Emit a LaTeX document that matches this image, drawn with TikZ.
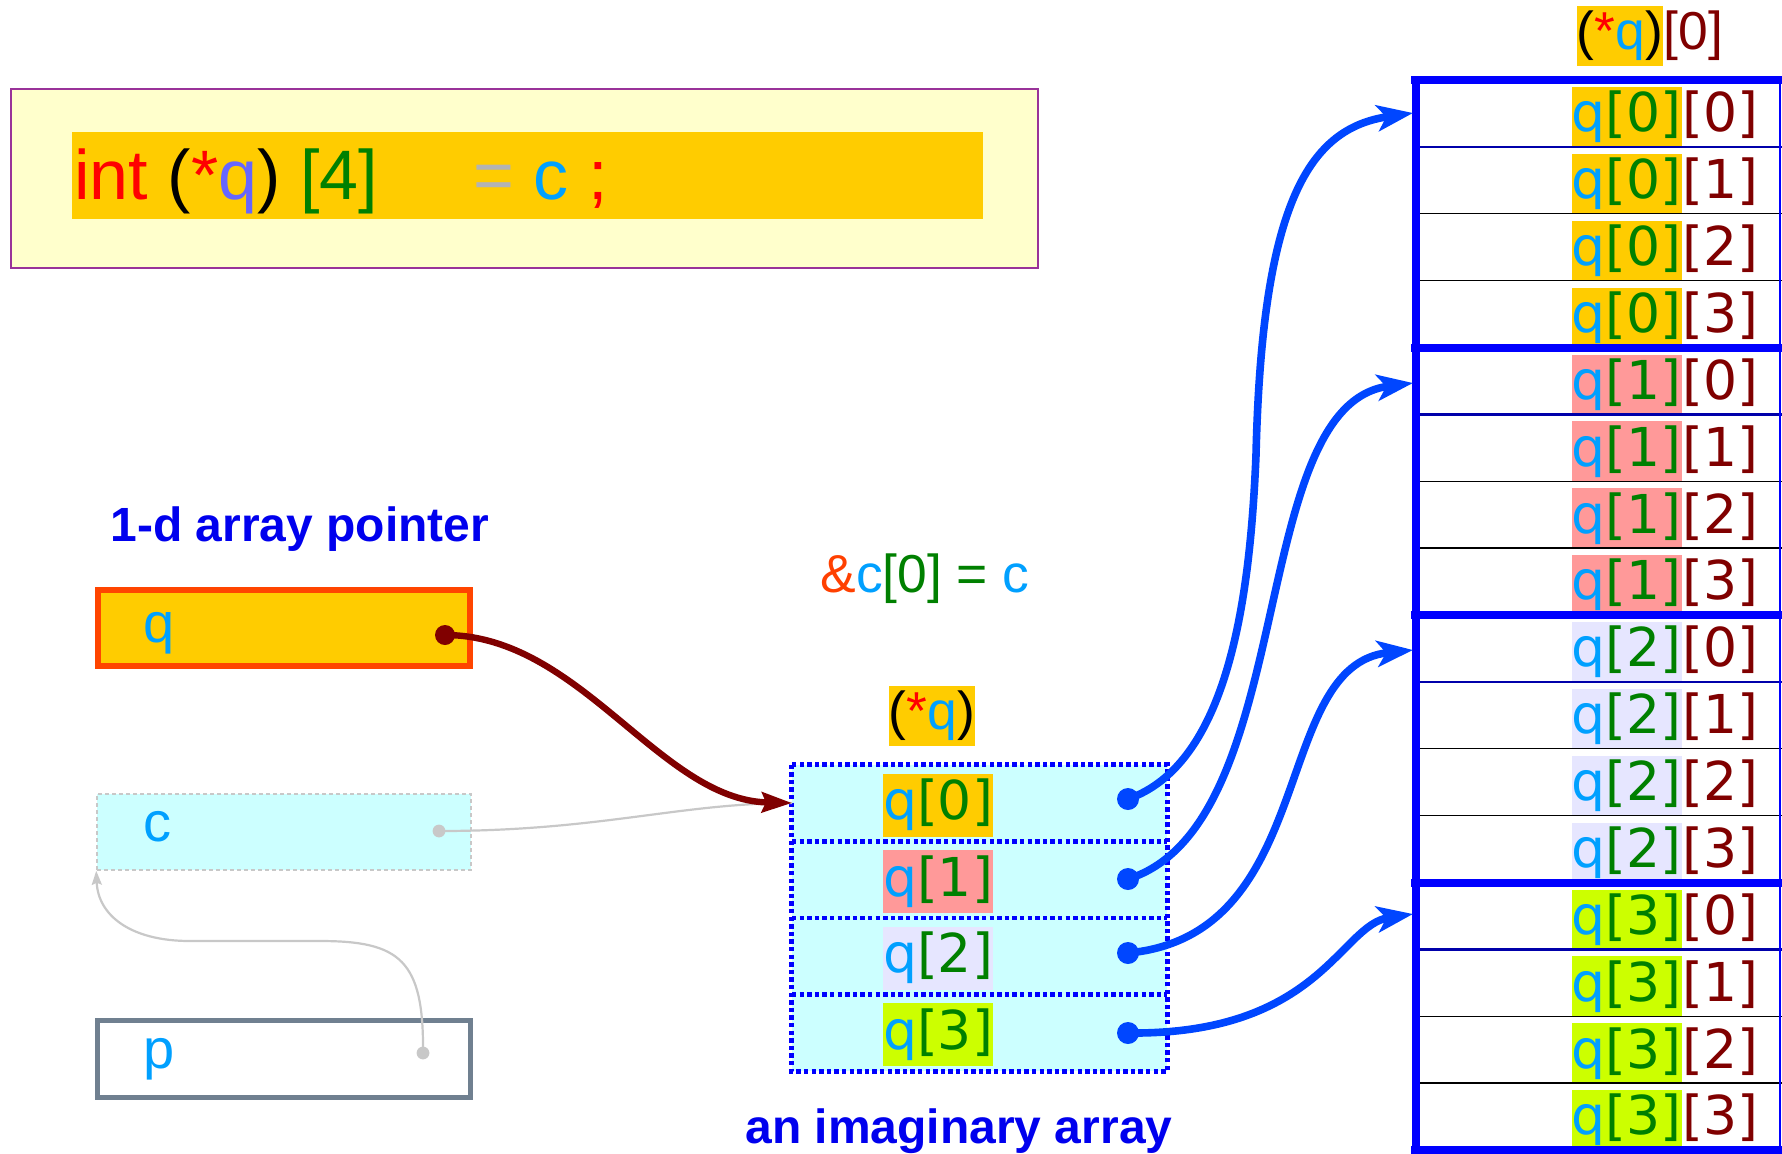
\documentclass[tikz,border=0pt]{standalone}
\usepackage{fontspec}
\setmainfont{Liberation Sans}
\newfontfamily\dvfont{DejaVu Sans}
\usetikzlibrary{arrows.meta}
\definecolor{skyq}{RGB}{0,160,255}
\definecolor{grn}{RGB}{0,128,0}
\definecolor{dred}{RGB}{128,0,0}
\definecolor{gold}{RGB}{255,204,0}
\definecolor{pinkbg}{RGB}{255,153,153}
\definecolor{lavbg}{RGB}{230,230,255}
\definecolor{limebg}{RGB}{204,255,0}
\definecolor{cyanbg}{RGB}{204,255,255}
\definecolor{lightyel}{RGB}{255,255,204}
\definecolor{purpleb}{RGB}{153,51,153}
\definecolor{perq}{RGB}{102,102,255}
\definecolor{eqgray}{RGB}{179,179,179}
\definecolor{orred}{RGB}{255,69,0}
\definecolor{slate}{RGB}{112,128,144}
\definecolor{ampc}{RGB}{255,64,0}
\definecolor{curveblue}{RGB}{0,70,255}
\definecolor{pureblue}{RGB}{0,0,255}
\definecolor{navyline}{RGB}{0,0,170}
\definecolor{lblblue}{RGB}{0,0,238}
\definecolor{ltgray}{RGB}{200,200,200}
\newcommand{\qidx}[1]{\textcolor{skyq}{q}\textcolor{grn}{[#1]}}
\newcommand{\starq}{\textcolor{black}{(}\textcolor{red}{*}\textcolor{skyq}{q}\textcolor{black}{)}}
\newcommand{\dvsize}{\dvfont\fontsize{26.8}{30}\selectfont}
\newcommand{\lssize}{\fontsize{26.7}{30}\selectfont}
\newcommand{\boxsize}{\fontsize{28}{32}\selectfont}
\newcommand{\codesize}{\fontsize{35}{40}\selectfont}
\newcommand{\boldsize}{\bfseries\fontsize{24}{28}\selectfont}
\tikzset{
  rowlbl/.style={inner sep=0pt, minimum height=30pt, font=\dvsize},
  midlbl/.style={inner sep=0pt, minimum height=31.5pt, font=\dvsize},
  idxlbl/.style={inner sep=0pt, font=\dvsize, text=dred, anchor=base west},
  starlbl/.style={inner sep=0pt, fill=gold, minimum width=43pt, minimum height=30pt, font=\lssize},
  boxlbl/.style={inner sep=0pt, font=\boxsize, text=skyq, anchor=base west},
  bluearrow/.style={draw=curveblue, line width=3.8pt, -{Stealth[length=18pt, width=13pt, inset=4.5pt]}},
  darkarrow/.style={draw=dred, line width=3.2pt, -{Stealth[length=15pt, width=10pt, inset=2pt]}},
  grayarrow/.style={draw=ltgray, line width=1.1pt, -{Stealth[length=7pt, width=5pt, inset=1pt]}},
  grayline/.style={draw=ltgray, line width=1.1pt},
  dotbox/.style={draw=pureblue, line width=2.4pt, dash pattern=on 2.2pt off 1.6pt},
  thickrow/.style={draw=pureblue, line width=4pt},
  thinrow/.style={draw=black, line width=0.7pt},
  bluerow/.style={draw=navyline, line width=1.2pt},
  boldlbl/.style={font=\boldsize, text=lblblue, anchor=base, inner sep=0pt}
}
\begin{document}
\begin{tikzpicture}[x=0.5pt, y=-0.5pt]
\useasboundingbox (0,0) rectangle (1782,1153);
\clip (0,0) rectangle (1782,1153);
\fill[white] (0,0) rectangle (1782,1153);

% top declaration box
\node[draw=purpleb, line width=0.6pt, fill=lightyel, inner sep=0pt,
      minimum width=513.5pt, minimum height=89.5pt] (decl) at (524.5,178.5) {};
\node[fill=gold, inner sep=0pt, minimum width=455.5pt, minimum height=43.5pt] (codebar) at (527.5,175.5) {};
\node[inner sep=0pt, anchor=base west, font=\codesize] (code1) at (74,199)
  {\textcolor{red}{int} (\textcolor{red}{*}\textcolor{perq}{q}) \textcolor{grn}{[4]}};
\node[inner sep=0pt, anchor=base west, font=\codesize] (code2) at (473,199)
  {\textcolor{eqgray}{=} \textcolor{skyq}{c} \textcolor{red}{;}};

% left boxes
\node[boldlbl] (lblptr) at (300,541) {1-d array pointer};
\node[draw=orred, line width=3pt, fill=gold, inner sep=0pt, minimum width=186pt, minimum height=38pt] (qbox) at (284,628) {};
\node[boxlbl] (qname) at (143,642) {q};
\node[draw=ltgray, dashed, dash pattern=on 2pt off 1.5pt, line width=0.75pt, fill=cyanbg, inner sep=0pt, minimum width=187pt, minimum height=38pt] (cbox) at (284,832) {};
\node[boxlbl] (cname) at (143,841) {c};
\node[draw=slate, line width=2.5pt, fill=white, inner sep=0pt, minimum width=186.5pt, minimum height=38.5pt] (pbox) at (284,1059) {};
\node[boxlbl] (pname) at (143,1068) {p};
\coordinate (qdot) at (445,635);
\coordinate (cdot) at (439,831);
\coordinate (pdot) at (423,1053);

% middle imaginary array
\node[inner sep=0pt, anchor=base west, font=\lssize] (addr) at (820,592)
  {\textcolor{ampc}{\&}\textcolor{skyq}{c}\textcolor{grn}{[0] =} \textcolor{skyq}{c}};
\node[starlbl] (starmid) at (932,716) {\starq};
\node[fill=cyanbg, inner sep=0pt, minimum width=187.5pt, minimum height=153pt] (arr) at (979.5,918) {};
\draw[dotbox] (arr.north west) rectangle (arr.south east);
\foreach \k in {1,2,3} {
  \draw[dotbox] (792,{765+76.5*\k}) -- (1167,{765+76.5*\k});
}
\foreach \k/\col in {0/gold,1/pinkbg,2/lavbg,3/limebg} {
  \node[midlbl, fill=\col] (m\k) at (938,{805+76.5*\k}) {\qidx{\k}};
}
\coordinate (arrin) at (792,803);
\coordinate (d0) at (1128,799);
\coordinate (d1) at (1128,879);
\coordinate (d2) at (1128,953);
\coordinate (d3) at (1128,1033);
\node[boldlbl] (lblarr) at (959,1143) {an imaginary array};

% right table
\node[starlbl] (startop) at (1620,36) {\starq};
\node[inner sep=0pt, anchor=base west, font=\lssize, text=dred] (startopidx) at (startop.base east) {[0]};
\foreach \g/\col in {0/gold,1/pinkbg,2/lavbg,3/limebg} {
  \foreach \r in {0,1,2,3} {
    \pgfmathsetmacro{\yc}{80+66.875*(4*\g+\r)+37}
    \node[rowlbl, fill=\col, anchor=east] (t\g\r) at (1682,\yc) {\qidx{\g}};
    \node[idxlbl] (u\g\r) at (t\g\r.base east) {[\r]};
  }
}
\foreach \k in {2,3,6,7,10,11,14,15} {
  \draw[thinrow] (1418,{80+66.875*\k}) -- (1782,{80+66.875*\k});
}
\foreach \k in {1,5,9,13} {
  \draw[bluerow] (1418,{80+66.875*\k}) -- (1782,{80+66.875*\k});
}
\foreach \k in {0,4,8,12,16} {
  \draw[thickrow] (1411,{80+66.875*\k}) -- (1790,{80+66.875*\k});
}
\draw[thickrow] (1415.5,76) -- (1415.5,1160);
\draw[draw=pureblue, line width=1.2pt] (1780,80) -- (1780,1153);
\coordinate (tin0) at (1413,113);
\coordinate (tin1) at (1413,383);
\coordinate (tin2) at (1413,650);
\coordinate (tin3) at (1413,914);

% connectors
\draw[grayarrow] (pdot) .. controls (424,960) and (400,941) .. (320,941)
   -- (190,941) .. controls (130,941) and (98,915) .. (cbox.south west);
\draw[grayline] (cdot) .. controls (600,831) and (680,803) .. (arrin);
\draw[darkarrow] (qdot) .. controls (580,635) and (660,800) .. (arrin);
\draw[bluearrow] (d0) .. controls (1228,764) and (1250,600) .. (1256,455)
   .. controls (1262,200) and (1310,128) .. (tin0);
\draw[bluearrow] (d1) .. controls (1300,825) and (1245,405) .. (tin1);
\draw[bluearrow] (d2) .. controls (1320,935) and (1270,665) .. (tin2);
\draw[bluearrow] (d3) .. controls (1320,1035) and (1340,925) .. (tin3);

% dots
\fill[dred] (qdot) circle (5pt);
\fill[ltgray] (cdot) circle (3.2pt);
\fill[ltgray] (pdot) circle (3.2pt);
\foreach \d in {d0,d1,d2,d3} { \fill[curveblue] (\d) circle (5.5pt); }
\end{tikzpicture}
\end{document}
